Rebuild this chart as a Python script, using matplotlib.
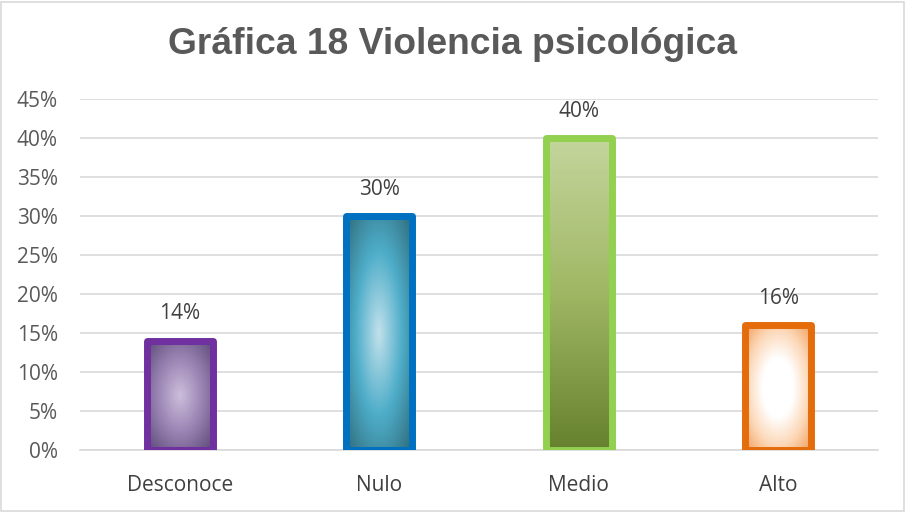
import numpy as np
from matplotlib import pyplot as plt
from matplotlib.colors import LinearSegmentedColormap
import matplotlib.patches as mpatches

categorias = ['Desconoce', 'Nulo', 'Medio', 'Alto']
valores = [0.14, 0.30, 0.40, 0.16]
etiquetas = ['14%', '30%', '40%', '16%']
ticks_y = [0, 0.05, 0.10, 0.15, 0.20, 0.25, 0.30, 0.35, 0.40, 0.45]
ticks_txt = ['0%', '5%', '10%', '15%', '20%', '25%', '30%', '35%', '40%', '45%']

bordes = ['#7030a0', '#0070c0', '#92d050', '#e46c0a']
rellenos = [
    ('radial', ['#cdbedb', '#9882b2', '#5a4876']),
    ('radial', ['#c2e1eb', '#4eadc9', '#2f6a79']),
    ('lineal', ['#c4d59c', '#9fb763', '#66812f']),
    ('radial', ['#ffffff', '#ffffff', '#fcd7b6', '#f29c58']),
]

plt.rcParams['font.family'] = ['Open Sans', 'DejaVu Sans']

fig = plt.figure(figsize=(9.06, 5.12), dpi=100)
ax = fig.add_axes([80/906, 62/512, 798/906, 351/512])

x = np.arange(len(categorias))
ancho = 0.33

# gradientes
n = 200
u = np.linspace(-1, 1, n)
U, V = np.meshgrid(u, u)
R = np.clip(np.sqrt(U**2 + V**2) / 1.414, 0, 1)
L = np.tile(np.linspace(1, 0, n)[:, None], (1, n))

for i in range(len(categorias)):
    tipo, cols = rellenos[i]
    cmap = LinearSegmentedColormap.from_list('g%d' % i, cols)
    barra = ax.bar(x[i], valores[i], width=ancho, color='none',
                   edgecolor=bordes[i], linewidth=5, joinstyle='round', zorder=3)[0]
    img = R if tipo == 'radial' else L
    im = ax.imshow(img, cmap=cmap, vmin=0, vmax=1, origin='lower',
                   extent=[x[i]-ancho/2, x[i]+ancho/2, 0, valores[i]],
                   aspect='auto', zorder=2)
    im.set_clip_path(barra)
    ax.text(x[i], valores[i] + 0.021, etiquetas[i], ha='center', va='bottom',
            fontsize=15, color='#404040')

ax.set_xlim(-0.5, 3.5)
ax.set_ylim(0, 0.45)
ax.set_xticks(x)
ax.set_xticklabels(categorias, fontsize=15, color='#404040')
ax.set_yticks(ticks_y)
ax.set_yticklabels(ticks_txt, fontsize=15, color='#595959')
ax.tick_params(axis='x', length=0, pad=18)
ax.tick_params(axis='y', length=0, pad=16)
ax.grid(axis='y', color='#d9d9d9', linewidth=1.2, zorder=0)
ax.set_axisbelow(True)
for s in ['top', 'right', 'left']:
    ax.spines[s].set_visible(False)
ax.spines['bottom'].set_color('#d9d9d9')
ax.spines['bottom'].set_linewidth(1.2)

fig.text(0.5, 1 - 45/512, 'Gráfica 18 Violencia psicológica', ha='center', va='center',
         fontsize=26.8, fontweight='bold', color='#595959', family='Liberation Sans')

marco = mpatches.Rectangle((0.001, 0.002), 0.997, 0.995, transform=fig.transFigure,
                           fill=False, edgecolor='#d9d9d9', linewidth=1.2)
fig.patches.append(marco)

plt.savefig('out.png', dpi=100)
